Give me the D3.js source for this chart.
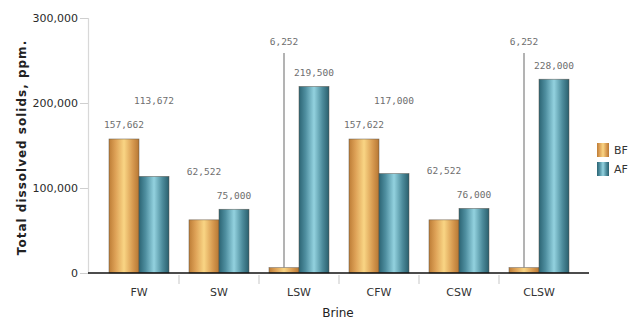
<!DOCTYPE html>
<html>
<head>
<meta charset="utf-8">
<script src="https://cdn.jsdelivr.net/npm/d3@7"></script>
<style>
  html, body { margin: 0; padding: 0; background: #fff; }
  svg { display: block; }
</style>
</head>
<body>
<svg id="chart" width="632" height="320"></svg>
<script>
// Total dissolved solids per brine, before (BF) and after (AF)
const categories = ["FW", "SW", "LSW", "CFW", "CSW", "CLSW"];
const seriesNames = ["BF", "AF"];
const bfValues = [157662, 62522, 6252, 157622, 62522, 6252];
const afValues = [113672, 75000, 219500, 117000, 76000, 228000];
const yTicks = [0, 100000, 200000, 300000];
const yTitle = "Total dissolved solids, ppm.";
const xTitle = "Brine";

const svg = d3.select("#chart");
const fmt = d3.format(",");

const plot = { left: 88, right: 589, top: 18, bottom: 273 };

const y = d3.scaleLinear().domain([0, 300000]).range([plot.bottom, plot.top]);
const x0 = d3.scaleBand().domain(categories).range([99, 579]).paddingInner(0).paddingOuter(0);
const x1 = d3.scaleBand().domain(seriesNames).range([0, x0.bandwidth()]).paddingInner(0).paddingOuter(1 / 3);

// gradients giving the bars a rounded, cylindrical look
const defs = svg.append("defs");
const grads = {
  BF: ["#bd7d36", "#dea257", "#f9d584", "#d99c52", "#b77733"],
  AF: ["#2c6574", "#4f8fa0", "#93d2df", "#4d8c9c", "#2a5f6d"]
};
Object.entries(grads).forEach(([k, stops]) => {
  const g = defs.append("linearGradient").attr("id", "grad-" + k)
    .attr("x1", "0%").attr("x2", "100%").attr("y1", "0%").attr("y2", "0%");
  const offs = [0, 0.22, 0.5, 0.78, 1];
  stops.forEach((c, i) => g.append("stop").attr("offset", offs[i]).attr("stop-color", c));
});

// y axis
const yAxis = svg.append("g")
  .attr("transform", `translate(${plot.left},0)`)
  .call(d3.axisLeft(y).tickValues(yTicks).tickFormat(fmt).tickSize(8).tickPadding(2));
yAxis.select(".domain").attr("stroke", "#d8d8d8").attr("stroke-width", 1.2);
yAxis.selectAll(".tick line").attr("stroke", "#cfcfcf");
yAxis.selectAll(".tick text")
  .attr("font-family", "DejaVu Sans").attr("font-size", 11).attr("fill", "#2a2a2a");

svg.append("text")
  .attr("transform", `translate(26,${(plot.top + plot.bottom) / 2 + 2}) rotate(-90)`)
  .attr("text-anchor", "middle")
  .attr("font-family", "DejaVu Sans").attr("font-weight", "bold")
  .attr("font-size", 12).attr("letter-spacing", 1).attr("fill", "#222")
  .text(yTitle);

// data rows
const rows = categories.map((c, i) => ({ cat: c, BF: bfValues[i], AF: afValues[i] }));

// bars
const groups = svg.append("g").selectAll("g").data(rows).join("g")
  .attr("transform", d => `translate(${x0(d.cat)},0)`);

groups.selectAll("rect")
  .data(d => seriesNames.map(s => ({ s, v: d[s] })))
  .join("rect")
  .attr("x", d => x1(d.s))
  .attr("y", d => y(d.v))
  .attr("width", x1.bandwidth())
  .attr("height", d => plot.bottom - y(d.v))
  .attr("fill", d => `url(#grad-${d.s})`)
  .attr("stroke", "#5a5248").attr("stroke-width", 0.6).attr("stroke-opacity", 0.8);

// value labels, staggered so the pair never overlaps
const labelFont = { family: "DejaVu Sans Mono", size: 9.5, color: "#6e6e6e" };
groups.each(function (d) {
  const g = d3.select(this);
  const hiKey = d.BF >= d.AF ? "BF" : "AF";
  const loKey = hiKey === "BF" ? "AF" : "BF";
  const hiY = y(d[hiKey]) - 14;
  const leader = d[loKey] / d[hiKey] < 0.1;
  const loY = leader ? plot.top + 24 : hiY - 24;
  const put = (key, yy) => g.append("text")
    .attr("x", x1(key) + x1.bandwidth() / 2)
    .attr("y", yy).attr("dy", "0.35em")
    .attr("text-anchor", "middle")
    .attr("font-family", labelFont.family).attr("font-size", labelFont.size)
    .attr("fill", labelFont.color)
    .text(fmt(d[key]));
  put(hiKey, hiY);
  put(loKey, loY);
  if (leader) {
    const cx = x1(loKey) + x1.bandwidth() / 2;
    g.append("line")
      .attr("x1", cx).attr("x2", cx)
      .attr("y1", loY + 11).attr("y2", y(d[loKey]))
      .attr("stroke", "#8a8a8a").attr("stroke-width", 1.3);
  }
});

// x axis baseline, category separators and labels
svg.append("line")
  .attr("x1", plot.left).attr("x2", plot.right)
  .attr("y1", plot.bottom).attr("y2", plot.bottom)
  .attr("stroke", "#111").attr("stroke-width", 1.4);

const bounds = categories.slice(1).map(c => x0(c));
svg.append("g").selectAll("line").data(bounds).join("line")
  .attr("x1", d => d).attr("x2", d => d)
  .attr("y1", plot.bottom + 2).attr("y2", plot.bottom + 11)
  .attr("stroke", "#d0d0d0").attr("stroke-width", 1.2);

svg.append("g").selectAll("text").data(categories).join("text")
  .attr("x", d => x0(d) + x0.bandwidth() / 2)
  .attr("y", 292).attr("dy", "0.35em")
  .attr("text-anchor", "middle")
  .attr("font-family", "DejaVu Sans").attr("font-size", 11).attr("fill", "#333")
  .text(d => d);

svg.append("text")
  .attr("x", 338).attr("y", 313).attr("dy", "0.35em")
  .attr("text-anchor", "middle")
  .attr("font-family", "DejaVu Sans").attr("font-size", 12).attr("fill", "#222")
  .text(xTitle);

// legend
const legend = svg.append("g").selectAll("g").data(seriesNames).join("g")
  .attr("transform", (d, i) => `translate(597,${143 + i * 19})`);
legend.append("rect")
  .attr("width", 12).attr("height", 14)
  .attr("fill", d => `url(#grad-${d})`);
legend.append("text")
  .attr("x", 17).attr("y", 7).attr("dy", "0.35em")
  .attr("font-family", "DejaVu Sans").attr("font-size", 11).attr("fill", "#333")
  .text(d => d);
</script>
</body>
</html>
